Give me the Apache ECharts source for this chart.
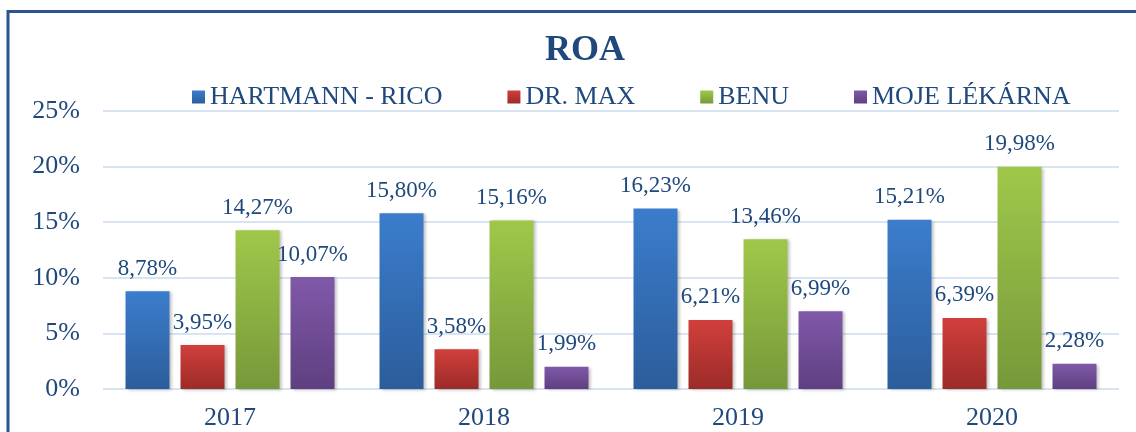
<!DOCTYPE html>
<html>
<head>
<meta charset="utf-8">
<script src="https://cdn.jsdelivr.net/npm/echarts@6/dist/echarts.min.js"></script>
<style>
  html, body { margin: 0; padding: 0; background: #fff; }
  #chart { width: 1136px; height: 432px; }
</style>
</head>
<body>
<div id="chart"></div>
<script>
var years = ['2017', '2018', '2019', '2020'];
var hartmann = [8.78, 15.80, 16.23, 15.21];
var drMax = [3.95, 3.58, 6.21, 6.39];
var benu = [14.27, 15.16, 13.46, 19.98];
var moje = [10.07, 1.99, 6.99, 2.28];
var names = ['HARTMANN - RICO', 'DR. MAX', 'BENU', 'MOJE LÉKÁRNA'];

var serif = '"Liberation Serif", "DejaVu Serif", serif';
var ink = '#1f497d';

function grad(top, bottom) {
    return new echarts.graphic.LinearGradient(0, 0, 0, 1, [
        { offset: 0, color: top },
        { offset: 1, color: bottom }
    ]);
}

function makeSeries(name, data, top, bottom) {
    return {
        name: name,
        type: 'bar',
        data: data,
        barWidth: 44,
        barGap: '25%',
        itemStyle: {
            color: grad(top, bottom),
            shadowBlur: 3,
            shadowOffsetX: 2,
            shadowOffsetY: 1,
            shadowColor: 'rgba(0,0,0,0.25)'
        },
        label: {
            show: true,
            position: 'top',
            distance: 11,
            color: ink,
            fontFamily: serif,
            fontSize: 23,
            formatter: function (p) {
                return p.value.toFixed(2).replace('.', ',') + '%';
            }
        }
    };
}

var chart = echarts.init(document.getElementById('chart'));
chart.setOption({
    animation: false,
    title: {
        text: 'ROA',
        left: 545,
        top: 33,
        padding: 0,
        textStyle: { color: ink, fontFamily: serif, fontWeight: 'bold', fontSize: 36 }
    },
    legend: {
        data: names,
        left: 192,
        top: 84,
        padding: 0,
        icon: 'rect',
        itemWidth: 13,
        itemHeight: 13,
        itemGap: 65,
        textStyle: { color: ink, fontFamily: serif, fontSize: 26 }
    },
    grid: { left: 103, right: 17, top: 111, bottom: 43 },
    xAxis: {
        type: 'category',
        data: years,
        axisLine: { show: false },
        axisTick: { show: false },
        axisLabel: { color: ink, fontFamily: serif, fontSize: 26, margin: 16 }
    },
    yAxis: {
        type: 'value',
        min: 0,
        max: 25,
        interval: 5,
        axisLine: { show: false },
        axisTick: { show: false },
        splitLine: { lineStyle: { color: '#d9e4f2', width: 2 } },
        axisLabel: { color: ink, fontFamily: serif, fontSize: 26, margin: 23, formatter: '{value}%' }
    },
    graphic: [{
        type: 'rect',
        shape: { x: 8, y: 11.5, width: 1200, height: 500 },
        style: { fill: 'none', stroke: '#2b5390', lineWidth: 3 },
        z: 100
    }],
    series: [
        makeSeries(names[0], hartmann, '#3b7dcc', '#2c5d9b'),
        makeSeries(names[1], drMax, '#d13f3c', '#9c2b28'),
        makeSeries(names[2], benu, '#9fc84a', '#77983a'),
        makeSeries(names[3], moje, '#8059a9', '#5f3f80')
    ]
});
</script>
</body>
</html>
